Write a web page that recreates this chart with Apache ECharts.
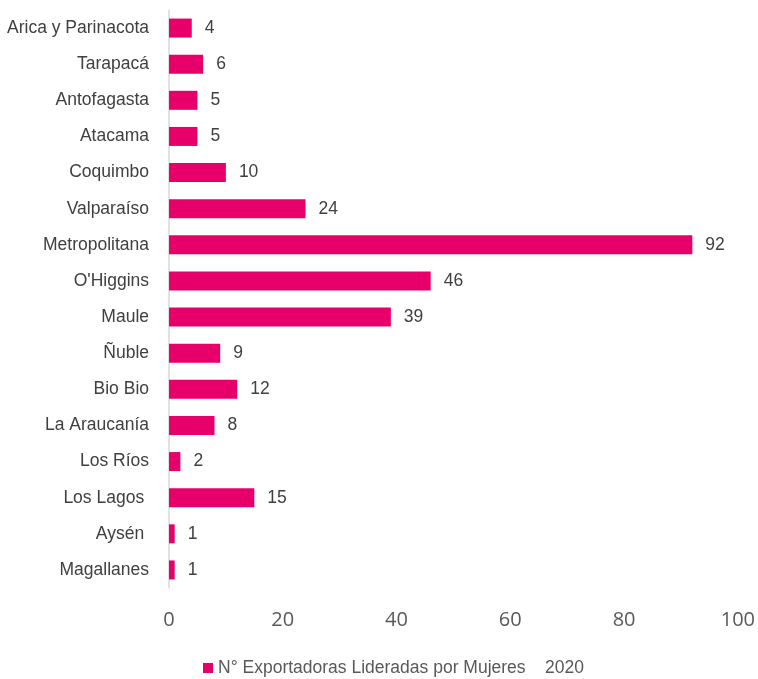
<!DOCTYPE html>
<html><head><meta charset="utf-8">
<script src="https://cdn.jsdelivr.net/npm/echarts@6/dist/echarts.min.js"></script>
<style>html,body{margin:0;padding:0;background:#fff}#c{width:758px;height:679px}</style>
</head><body><div id="c"></div>
<script>
const categories = ["Arica y Parinacota","Tarapacá","Antofagasta","Atacama","Coquimbo","Valparaíso","Metropolitana","O'Higgins","Maule","Ñuble","Bio Bio","La Araucanía","Los Ríos","Los Lagos ","Aysén ","Magallanes"];
const values = [4,6,5,5,10,24,92,46,39,9,12,8,2,15,1,1];
const seriesName = "N° Exportadoras Lideradas por Mujeres    2020";
const xTicks = [0,20,40,60,80,100];

const chart = echarts.init(document.getElementById('c'));
chart.setOption({
  animation:false,
  grid:{left:169,right:19,top:10,bottom:91,containLabel:false},
  legend:{data:[seriesName],bottom:2,left:203,padding:0,itemWidth:10,itemHeight:10,itemGap:6,icon:'rect',
    textStyle:{fontFamily:'Liberation Sans',fontSize:17.5,color:'#595959'}},
  xAxis:{type:'value',min:xTicks[0],max:xTicks[xTicks.length-1],interval:20,
    axisLine:{show:false},axisTick:{show:false},splitLine:{show:false},
    axisLabel:{margin:22,fontFamily:'Open Sans',fontSize:20,color:'#595959'}},
  yAxis:{type:'category',data:categories,inverse:true,
    axisLine:{show:true,lineStyle:{color:'#d9d9d9',width:1.5}},axisTick:{show:false},
    axisLabel:{margin:20,fontFamily:'Liberation Sans',fontSize:17.5,color:'#404040'}},
  series:[{name:seriesName,type:'bar',data:values,barWidth:19,
    itemStyle:{color:'#E8006A'},
    label:{show:true,position:'right',distance:13,fontFamily:'Liberation Sans',fontSize:17.5,color:'#404040'}}]
});
</script></body></html>
